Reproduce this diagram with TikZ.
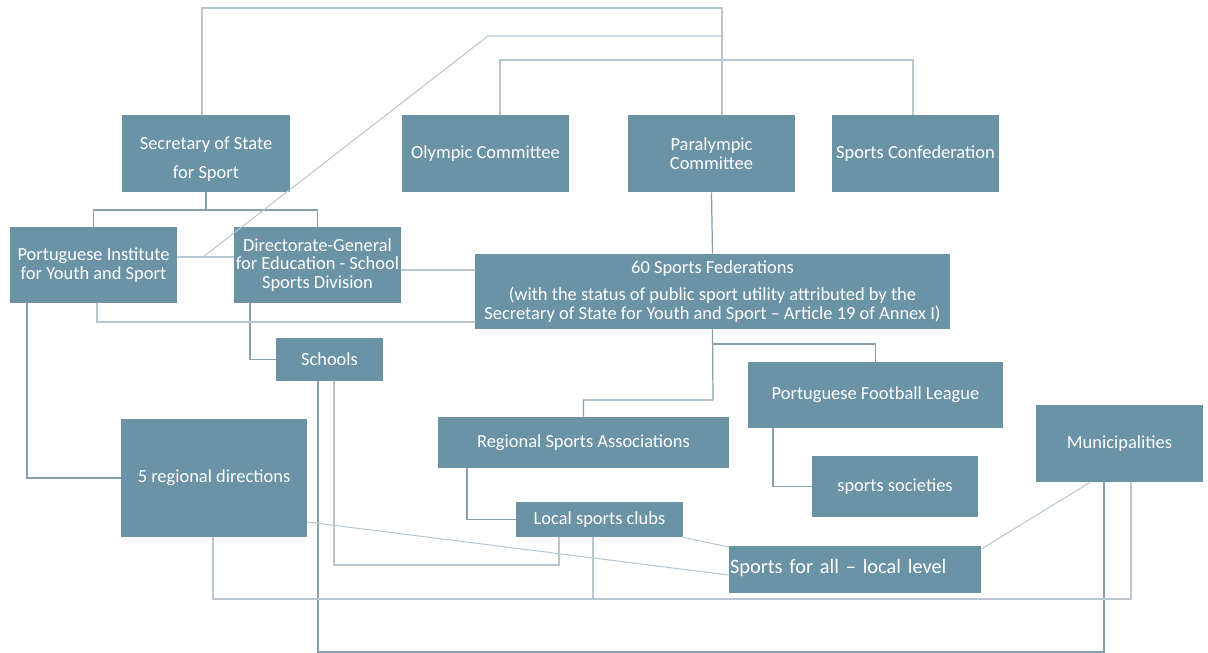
\documentclass[tikz,border=0pt]{standalone}
\usepackage{fontspec}
\setmainfont{Carlito}
\usepackage{xcolor}
\definecolor{boxblue}{RGB}{106,147,166}
\definecolor{linedark}{RGB}{134,158,174}
\definecolor{linepale}{RGB}{184,198,207}
\usetikzlibrary{positioning, calc}

\begin{document}
\begin{tikzpicture}[x=0.02cm, y=-0.02cm,
    box/.style={rectangle, fill=boxblue, text=white, inner sep=0pt, align=center,
      font=\fontsize{10.5}{10.5}\selectfont},
    link/.style={draw=linedark, line width=0.7pt},
    faint/.style={draw=linepale, line width=0.6pt}]
      \def\px{0.02cm}
      \useasboundingbox (0,0) rectangle (1208,653);

      % TOP ROW
      \node[box, minimum width=168*\px, minimum height=77*\px] (sec) at (206,153.5)
        {\rule{0pt}{14pt}Secretary of State\\[6pt]for Sport};
      \node[box, minimum width=167*\px, minimum height=77*\px] (oly) at (485.5,153.5)
        {Olympic Committee};
      \node[box, minimum width=167*\px, minimum height=77*\px] (para) at (711.5,153.5)
        {Paralympic\\Committee};
      \node[box, minimum width=167*\px, minimum height=77*\px] (conf) at (915.5,153.5)
        {Sports Confederation};

      % SECOND ROW
      \node[box, minimum width=167*\px, minimum height=76*\px] (inst) at (93.5,265)
        {Portuguese Institute\\for Youth and Sport};
      \node[box, minimum width=167*\px, minimum height=76*\px] (dge) at (317.5,265)
        {Directorate-General\\for Education - School\\Sports Division};
      \node[box, minimum width=475*\px, minimum height=75*\px] (fed) at (712.5,291.5)
        {60 Sports Federations\\[5pt](with the status of public sport utility attributed by the\\Secretary of State for Youth and Sport -- Article 19 of Annex I)};

      % LOWER LEVELS
      \node[box, minimum width=107*\px, minimum height=43*\px] (sch) at (329.5,359.5) {Schools};
      \node[box, minimum width=291*\px, minimum height=51*\px] (rsa) at (583.5,442.5)
        {Regional Sports Associations};
      \node[box, minimum width=255*\px, minimum height=66*\px] (pfl) at (875.5,395)
        {Portuguese Football League};
      \node[box, minimum width=167*\px, minimum height=77*\px] (mun) at (1119.5,443.5)
        {Municipalities};
      \node[box, minimum width=186*\px, minimum height=118*\px] (reg) at (214,478)
        {5 regional directions};
      \node[box, minimum width=166*\px, minimum height=61*\px] (soc) at (895,486.5)
        {sports societies};
      \node[box, minimum width=167*\px, minimum height=35*\px] (loc) at (599.5,519.5)
        {Local sports clubs};
      \node[box, minimum height=47*\px, text width=250*\px, inner xsep=1*\px, align=left,
        font=\fontsize{11.6}{11.6}\selectfont] (sfa) at (855,569)
        {\rule[-3pt]{0pt}{3pt}Sports for all -- local level};

      \coordinate (j1) at (722,36);

      % TREE LINKS
      \draw[link] (sec.south) -- (206,210);
      \draw[link] (inst.north) |- (dge.north |- 0,210) -- (dge.north);
      \draw[link] (para.south) -- (fed.north);
      \draw[link] (fed.south) -- (713,400) -| (rsa.north);
      \draw[link] (713,344) -| (pfl.north);
      \draw[link] (inst.south -| 27,0) |- (reg.west);
      \draw[link] (dge.south -| 250,0) |- (sch.west);
      \draw[link] (rsa.south -| 467,0) |- (loc.west);
      \draw[link] (pfl.south -| 773,0) |- (soc.west);
      \draw[link] (sch.south -| 318,0) |- (1104,652) -- (mun.south -| 1104,0);

      % CROSS LINKS
      \draw[faint] (sec.north -| 202,0) |- (722,8) -- (para.north -| 722,0);
      \draw[faint] (inst.east |- 0,257) -- (dge.west |- 0,257);
      \draw[faint] (203,257) -- (488,36) -- (j1);
      \draw[faint] (oly.north -| 500,0) |- (913,60) -- (conf.north -| 913,0);
      \draw[faint] (dge.east |- 0,270) -- (fed.west |- 0,270);
      \draw[faint] (inst.south -| 97,0) |- (fed.west |- 0,322);
      \draw[faint] (sch.south -| 334,0) |- (559,565) -- (loc.south -| 559,0);
      \draw[faint] (reg.south -| 213,0) |- (1131,599) -- (mun.south -| 1131,0);
      \draw[faint] (loc.south -| 593,0) -- (593,599);
      \draw[faint] (reg.east |- 0,522) -- (sfa.west |- 0,575);
      \draw[faint] (loc.south east) -- (sfa.west |- 0,547);
      \draw[faint] (sfa.east |- 0,549) -- (mun.south -| 1090,0);
\end{tikzpicture}
\end{document}
